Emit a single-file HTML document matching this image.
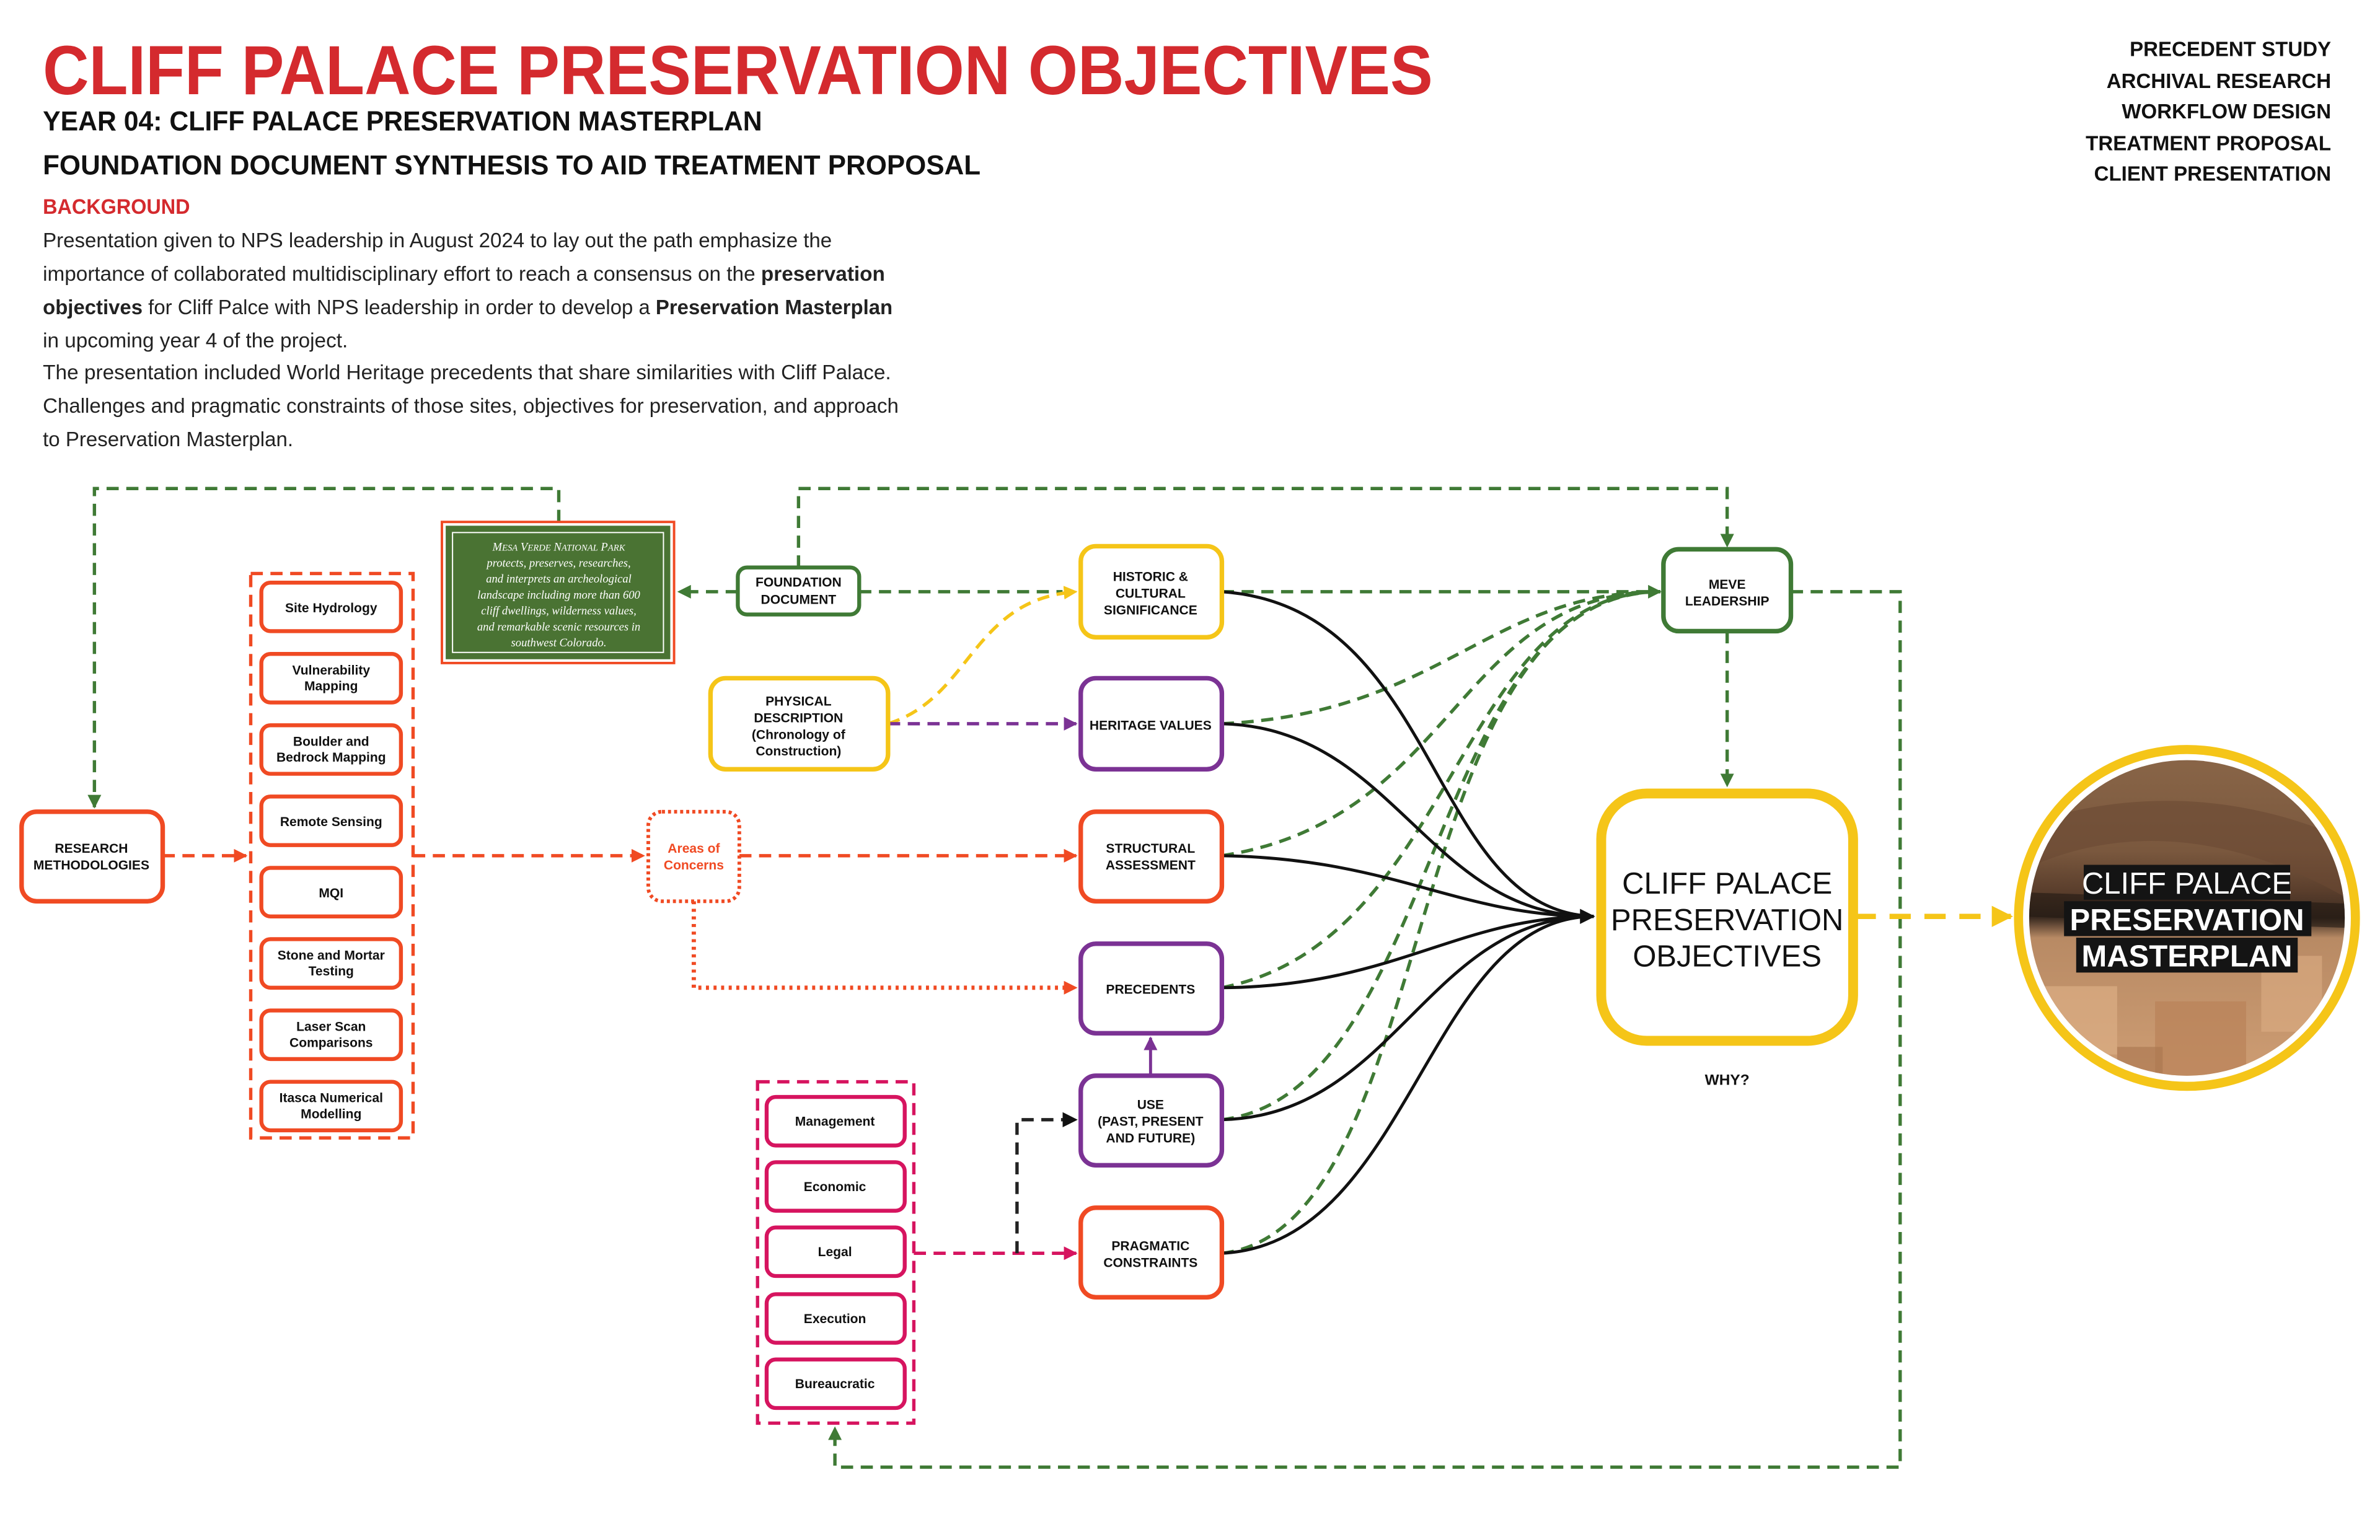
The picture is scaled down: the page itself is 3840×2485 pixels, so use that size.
<!DOCTYPE html>
<html><head><meta charset="utf-8"><style>
html,body{margin:0;padding:0;background:#fff}
svg{display:block}
.t{font-family:"Liberation Sans",sans-serif}
.n{font-family:"Liberation Sans",sans-serif;font-weight:bold;font-size:8.6px;fill:#111;text-anchor:middle}
.b{font-family:"Liberation Sans",sans-serif;font-size:13.5px;fill:#222}
</style></head><body>
<svg width="3840" height="2485" viewBox="0 0 1568 1015" xmlns="http://www.w3.org/2000/svg">
<defs>
<marker id="ag2" viewBox="0 0 10 10" refX="9" refY="5" markerWidth="9" markerHeight="9" orient="auto" markerUnits="userSpaceOnUse"><path d="M0,0L10,5L0,10z" fill="#3f7a35"/></marker>
<marker id="ao" viewBox="0 0 10 10" refX="9" refY="5" markerWidth="9" markerHeight="9" orient="auto" markerUnits="userSpaceOnUse"><path d="M0,0L10,5L0,10z" fill="#f04a23"/></marker>
<marker id="ay" viewBox="0 0 10 10" refX="9" refY="5" markerWidth="9" markerHeight="9" orient="auto" markerUnits="userSpaceOnUse"><path d="M0,0L10,5L0,10z" fill="#f5c518"/></marker>
<marker id="ay2" viewBox="0 0 10 10" refX="9" refY="5" markerWidth="14" markerHeight="14" orient="auto" markerUnits="userSpaceOnUse"><path d="M0,0L10,5L0,10z" fill="#f5c518"/></marker>
<marker id="ap" viewBox="0 0 10 10" refX="9" refY="5" markerWidth="9" markerHeight="9" orient="auto" markerUnits="userSpaceOnUse"><path d="M0,0L10,5L0,10z" fill="#7b3294"/></marker>
<marker id="ak" viewBox="0 0 10 10" refX="9" refY="5" markerWidth="10" markerHeight="10" orient="auto" markerUnits="userSpaceOnUse"><path d="M0,0L10,5L0,10z" fill="#111"/></marker>
<marker id="am" viewBox="0 0 10 10" refX="9" refY="5" markerWidth="9" markerHeight="9" orient="auto" markerUnits="userSpaceOnUse"><path d="M0,0L10,5L0,10z" fill="#d6145f"/></marker>
<clipPath id="cc"><circle cx="1441" cy="605" r="104"/></clipPath>
<linearGradient id="rock" x1="0" y1="0" x2="0" y2="1">
<stop offset="0" stop-color="#8a6648"/><stop offset="0.3" stop-color="#7a583e"/><stop offset="0.42" stop-color="#5a3e2c"/><stop offset="0.5" stop-color="#3a2a20"/><stop offset="0.56" stop-color="#b88a64"/><stop offset="1" stop-color="#cf9e74"/></linearGradient>
</defs>

<text class="t" x="28" y="62" font-size="46" font-weight="bold" fill="#d42a2e" textLength="916" lengthAdjust="spacingAndGlyphs">CLIFF PALACE PRESERVATION OBJECTIVES</text>
<text class="t" x="28" y="86" font-size="18" font-weight="bold" fill="#111" textLength="474" lengthAdjust="spacingAndGlyphs">YEAR 04: CLIFF PALACE PRESERVATION MASTERPLAN</text>
<text class="t" x="28" y="115" font-size="18" font-weight="bold" fill="#111" textLength="618" lengthAdjust="spacingAndGlyphs">FOUNDATION DOCUMENT SYNTHESIS TO AID TREATMENT PROPOSAL</text>
<text class="t" x="28" y="141" font-size="14" font-weight="bold" fill="#d42a2e" textLength="97" lengthAdjust="spacingAndGlyphs">BACKGROUND</text>
<text class="b" x="28" y="163" textLength="520" lengthAdjust="spacingAndGlyphs">Presentation given to NPS leadership in August 2024 to lay out the path emphasize the</text>
<text class="b" x="28" y="185" textLength="555" lengthAdjust="spacingAndGlyphs">importance of collaborated multidisciplinary effort to reach a consensus on the <tspan font-weight="bold">preservation</tspan></text>
<text class="b" x="28" y="207" textLength="560" lengthAdjust="spacingAndGlyphs"><tspan font-weight="bold">objectives</tspan> for Cliff Palce with NPS leadership in order to develop a <tspan font-weight="bold">Preservation Masterplan</tspan></text>
<text class="b" x="28" y="229" textLength="201" lengthAdjust="spacingAndGlyphs">in upcoming year 4 of the project.</text>
<text class="b" x="28" y="250" textLength="559" lengthAdjust="spacingAndGlyphs">The presentation included World Heritage precedents that share similarities with Cliff Palace.</text>
<text class="b" x="28" y="272" textLength="564" lengthAdjust="spacingAndGlyphs">Challenges and pragmatic constraints of those sites, objectives for preservation, and approach</text>
<text class="b" x="28" y="294" textLength="165" lengthAdjust="spacingAndGlyphs">to Preservation Masterplan.</text>

<g class="t" font-size="13.5" font-weight="bold" fill="#111" text-anchor="end">
<text x="1536" y="37">PRECEDENT STUDY</text>
<text x="1536" y="58">ARCHIVAL RESEARCH</text>
<text x="1536" y="78">WORKFLOW DESIGN</text>
<text x="1536" y="99">TREATMENT PROPOSAL</text>
<text x="1536" y="119">CLIENT PRESENTATION</text>
</g>

<g fill="none" stroke="#3f7a35" stroke-width="2.2" stroke-dasharray="8,5">
<path d="M368,344 V322 H62 V532" marker-end="url(#ag2)"/>
<path d="M526,374 V322 H1138 V360" marker-end="url(#ag2)"/>
<path d="M486,390 H447" marker-end="url(#ag2)"/>
<path d="M566,390 H700"/>
<path d="M805,390 H1094" marker-end="url(#ag2)"/>
<path d="M1180,390 H1252 V967 H550 V941" marker-end="url(#ag2)"/>
<path d="M1138,416 V518" marker-end="url(#ag2)"/>
<path d="M805,477 C950,470 980,390 1094,390"/>
<path d="M805,564 C960,540 960,390 1094,390"/>
<path d="M805,651 C960,620 960,390 1094,390"/>
<path d="M805,738 C950,720 940,390 1094,390"/>
<path d="M805,826 C950,810 920,390 1094,390"/>
</g>
<g fill="none" stroke="#111" stroke-width="2">
<path d="M805,390 C950,400 940,600 1050,604"/>
<path d="M805,477 C920,480 940,604 1050,604"/>
<path d="M805,564 C920,566 960,604 1050,604"/>
<path d="M805,651 C920,650 960,604 1050,604"/>
<path d="M805,738 C920,735 940,604 1050,604"/>
<path d="M805,826 C930,820 940,604 1050,604" marker-end="url(#ak)"/>
</g>
<path d="M585,477 C640,460 640,395 709,390" fill="none" stroke="#f5c518" stroke-width="2.2" stroke-dasharray="8,5" marker-end="url(#ay)"/>
<path d="M1222,604 H1325" fill="none" stroke="#f5c518" stroke-width="3.5" stroke-dasharray="14,9" marker-end="url(#ay2)"/>
<path d="M585,477 H709" fill="none" stroke="#7b3294" stroke-width="2.2" stroke-dasharray="8,5" marker-end="url(#ap)"/>
<path d="M758,709 V684" fill="none" stroke="#7b3294" stroke-width="2" marker-end="url(#ap)"/>
<g fill="none" stroke="#f04a23" stroke-width="2.2" stroke-dasharray="8,5">
<path d="M107,564 H162" marker-end="url(#ao)"/>
<path d="M272,564 H424" marker-end="url(#ao)"/>
<path d="M487,564 H709" marker-end="url(#ao)"/>
</g>
<path d="M457,594 V651 H709" fill="none" stroke="#f04a23" stroke-width="2.8" stroke-dasharray="2,3" marker-end="url(#ao)"/>
<path d="M602,826 H709" fill="none" stroke="#d6145f" stroke-width="2.2" stroke-dasharray="8,5" marker-end="url(#am)"/>
<path d="M670,826 V738 H709" fill="none" stroke="#222" stroke-width="2.2" stroke-dasharray="8,5" marker-end="url(#ak)"/>

<rect x="165" y="378" width="107" height="372" fill="none" stroke="#f04a23" stroke-width="2.2" stroke-dasharray="8,5"/>
<rect x="499" y="713" width="103" height="225" fill="none" stroke="#d6145f" stroke-width="2.2" stroke-dasharray="8,5"/>

<g fill="#fff" stroke-width="2.6">
<rect x="14" y="535" width="93" height="59" rx="10" stroke="#f04a23" stroke-width="3"/>
<rect x="172" y="384" width="92" height="32" rx="6" stroke="#f04a23"/>
<rect x="172" y="431" width="92" height="32" rx="6" stroke="#f04a23"/>
<rect x="172" y="478" width="92" height="32" rx="6" stroke="#f04a23"/>
<rect x="172" y="525" width="92" height="32" rx="6" stroke="#f04a23"/>
<rect x="172" y="572" width="92" height="32" rx="6" stroke="#f04a23"/>
<rect x="172" y="619" width="92" height="32" rx="6" stroke="#f04a23"/>
<rect x="172" y="666" width="92" height="32" rx="6" stroke="#f04a23"/>
<rect x="172" y="713" width="92" height="32" rx="6" stroke="#f04a23"/>
<rect x="486" y="374" width="80" height="31" rx="6" stroke="#3f7a35"/>
<rect x="712" y="360" width="93" height="60" rx="10" stroke="#f5c518" stroke-width="3"/>
<rect x="468" y="447" width="117" height="60" rx="10" stroke="#f5c518" stroke-width="3"/>
<rect x="712" y="447" width="93" height="60" rx="10" stroke="#7b3294" stroke-width="3"/>
<rect x="427" y="535" width="60" height="59" rx="9" stroke="#f04a23" stroke-width="2.4" stroke-dasharray="2,2"/>
<rect x="712" y="535" width="93" height="59" rx="10" stroke="#f04a23" stroke-width="3"/>
<rect x="712" y="622" width="93" height="59" rx="10" stroke="#7b3294" stroke-width="3"/>
<rect x="712" y="709" width="93" height="59" rx="10" stroke="#7b3294" stroke-width="3"/>
<rect x="712" y="796" width="93" height="59" rx="10" stroke="#f04a23" stroke-width="3"/>
<rect x="505" y="723" width="91" height="32" rx="6" stroke="#d6145f"/>
<rect x="505" y="766" width="91" height="32" rx="6" stroke="#d6145f"/>
<rect x="505" y="809" width="91" height="32" rx="6" stroke="#d6145f"/>
<rect x="505" y="853" width="91" height="32" rx="6" stroke="#d6145f"/>
<rect x="505" y="896" width="91" height="32" rx="6" stroke="#d6145f"/>
<rect x="1096" y="362" width="84" height="54" rx="10" stroke="#3f7a35" stroke-width="3"/>
<rect x="1055" y="523" width="166" height="163" rx="30" stroke="#f5c518" stroke-width="6.5"/>
</g>

<rect x="291" y="344" width="153" height="93" fill="#fff" stroke="#f04a23" stroke-width="1.6"/>
<rect x="293.5" y="346.5" width="148" height="88" fill="#4a7333"/>
<rect x="298" y="351" width="139" height="79" fill="none" stroke="#fff" stroke-width="0.8"/>
<g font-family="Liberation Serif,serif" font-style="italic" font-size="7.6" fill="#fff" text-anchor="middle">
<text x="368" y="363">M<tspan font-size="6">ESA</tspan> V<tspan font-size="6">ERDE</tspan> N<tspan font-size="6">ATIONAL</tspan> P<tspan font-size="6">ARK</tspan></text>
<text x="368" y="373.5">protects, preserves, researches,</text>
<text x="368" y="384">and interprets an archeological</text>
<text x="368" y="394.5">landscape including more than 600</text>
<text x="368" y="405">cliff dwellings, wilderness values,</text>
<text x="368" y="415.5">and remarkable scenic resources in</text>
<text x="368" y="426">southwest Colorado.</text>
</g>

<g class="n">
<text x="60" y="562">RESEARCH</text><text x="60" y="573">METHODOLOGIES</text>
<text x="218" y="403.5">Site Hydrology</text>
<text x="218" y="444.5">Vulnerability</text><text x="218" y="455">Mapping</text>
<text x="218" y="491.5">Boulder and</text><text x="218" y="502">Bedrock Mapping</text>
<text x="218" y="544.5">Remote Sensing</text>
<text x="218" y="591.5">MQI</text>
<text x="218" y="632.5">Stone and Mortar</text><text x="218" y="643">Testing</text>
<text x="218" y="679.5">Laser Scan</text><text x="218" y="690">Comparisons</text>
<text x="218" y="726.5">Itasca Numerical</text><text x="218" y="737">Modelling</text>
<text x="526" y="386.5">FOUNDATION</text><text x="526" y="398">DOCUMENT</text>
<text x="758" y="383">HISTORIC &amp;</text><text x="758" y="394">CULTURAL</text><text x="758" y="405">SIGNIFICANCE</text>
<text x="526" y="465">PHYSICAL</text><text x="526" y="476">DESCRIPTION</text><text x="526" y="487">(Chronology of</text><text x="526" y="498">Construction)</text>
<text x="758" y="481">HERITAGE VALUES</text>
<text x="457" y="562" style="fill:#f04a23">Areas of</text><text x="457" y="573" style="fill:#f04a23">Concerns</text>
<text x="758" y="562">STRUCTURAL</text><text x="758" y="573">ASSESSMENT</text>
<text x="758" y="655">PRECEDENTS</text>
<text x="758" y="731">USE</text><text x="758" y="742">(PAST, PRESENT</text><text x="758" y="753">AND FUTURE)</text>
<text x="758" y="824">PRAGMATIC</text><text x="758" y="835">CONSTRAINTS</text>
<text x="550" y="742">Management</text>
<text x="550" y="785">Economic</text>
<text x="550" y="828">Legal</text>
<text x="550" y="872">Execution</text>
<text x="550" y="915">Bureaucratic</text>
<text x="1138" y="388">MEVE</text><text x="1138" y="399">LEADERSHIP</text>
<text x="1138" y="715" font-size="10">WHY?</text>
</g>
<g class="t" font-size="20" fill="#111" text-anchor="middle">
<text x="1138" y="589">CLIFF PALACE</text>
<text x="1138" y="613">PRESERVATION</text>
<text x="1138" y="637">OBJECTIVES</text>
</g>

<circle cx="1441" cy="605" r="111" fill="#fff" stroke="#f5c518" stroke-width="6"/>
<g clip-path="url(#cc)">
<rect x="1330" y="495" width="225" height="220" fill="url(#rock)"/>
<path d="M1330,575 C1400,540 1480,550 1560,600 L1560,560 C1480,520 1400,520 1330,545z" fill="#6a4a34" opacity="0.6"/>
<path d="M1330,588 L1560,596 L1560,612 L1330,604z" fill="#1e1510" opacity="0.55"/>
<rect x="1345" y="650" width="50" height="45" fill="#dcae84" opacity="0.7"/>
<rect x="1420" y="660" width="60" height="55" fill="#b98258" opacity="0.7"/>
<rect x="1490" y="630" width="40" height="50" fill="#dcae84" opacity="0.6"/>
<rect x="1395" y="690" width="30" height="25" fill="#a8744e" opacity="0.6"/>
</g>
<rect x="1373" y="570" width="136" height="23" fill="#141414"/>
<rect x="1360" y="594" width="163" height="23" fill="#141414"/>
<rect x="1368" y="618" width="146" height="23" fill="#141414"/>
<g class="t" font-size="20" fill="#fff" text-anchor="middle">
<text x="1441" y="589">CLIFF PALACE</text>
<text x="1441" y="613" font-weight="bold">PRESERVATION</text>
<text x="1441" y="637" font-weight="bold">MASTERPLAN</text>
</g>
</svg>
</body></html>
